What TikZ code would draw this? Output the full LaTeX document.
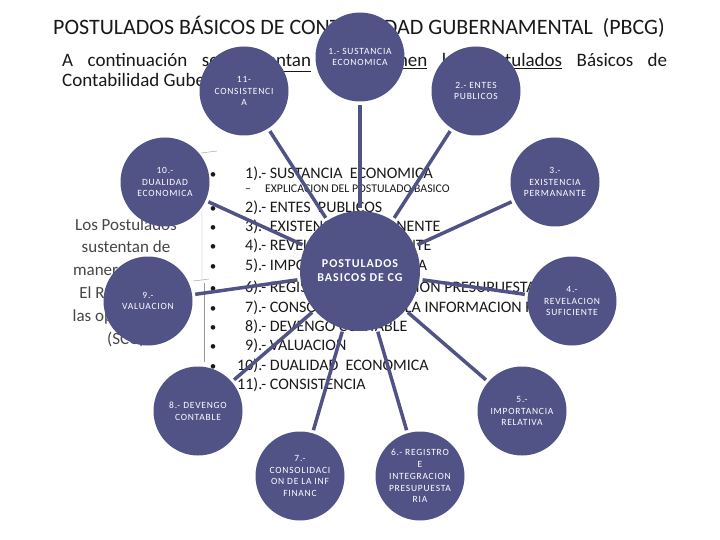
\documentclass[tikz,border=0pt]{standalone}
\usepackage{fontspec}
\setmainfont{Carlito}
\newfontfamily\bubfont{Carlito}[LetterSpace=8]
\usetikzlibrary{positioning}
\definecolor{PB}{RGB}{81,83,135}
\definecolor{TX}{RGB}{25,25,25}
\definecolor{LT}{RGB}{70,70,70}
\definecolor{GL}{RGB}{150,150,150}

\begin{document}
\begin{tikzpicture}[x=1pt, y=-1pt,
  bub/.style={circle, fill=PB, minimum size=89pt, inner sep=0pt,
              text=white, align=center,
              font=\bubfont\fontsize{9.5}{11.8}\selectfont},
  hub/.style={circle, fill=PB, minimum size=120pt, inner sep=0pt,
              text=white, align=center,
              font=\bubfont\fontsize{12}{14}\selectfont\bfseries},
  spoke/.style={line width=3.5pt, draw=PB, shorten <=3pt, shorten >=3pt},
  item/.style={anchor=base west, inner sep=0pt, text=TX,
               font=\fontsize{16}{18}\selectfont},
  bul/.style={anchor=base, inner sep=0pt, text=TX,
              font=\fontsize{13}{15}\selectfont}
]
\useasboundingbox (0,0) rectangle (720,540);

% heading and intro
\node[anchor=base west, inner sep=0pt, text=TX, font=\fontsize{22}{26}\selectfont]
  (title) at (53,35) {POSTULADOS BÁSICOS DE CONTABILIDAD GUBERNAMENTAL\ \ (PBCG)};
\node[anchor=base west, inner sep=0pt, text=TX, font=\fontsize{19}{22}\selectfont]
  (intro1) at (62,67) {\makebox[605pt][s]{A continuación se \underline{presentan} en \underline{resumen} los \underline{Postulados} Básicos de}};
\node[anchor=base west, inner sep=0pt, text=TX, font=\fontsize{19}{22}\selectfont]
  (intro2) at (62,87) {Contabilidad Gubernamental};

% left text box
\node[anchor=north, inner sep=0pt, text=LT, align=center,
      font=\fontsize{17}{22.8}\selectfont]
  (side) at (126,218) {Los Postulados\\sustentan de\\manera técnica\\El Registro de\\las operaciones\\(SCG)};
\draw[GL, thin] (201,153) -- (217,151);
\draw[GL, thin] (202,212) -- (202,280) -- (193,281);
\draw[GL, thin] (202,280) -- (209,279);
\draw[GL, thin] (204,283) -- (204,362);

% list
\foreach \yy in {179,212,232,251,270,292,312,331,350,370,389}
  \node[bul] (b\yy) at (213,\yy) {\textbullet};
\node[item] (it1) at (245,179) {1).- SUSTANCIA\ \ ECONOMICA};
\node[anchor=base west, inner sep=0pt, text=TX, font=\fontsize{11.8}{14}\selectfont]
  (sub) at (245,193) {–\hspace{14pt}EXPLICACION DEL POSTULADO BASICO};
\node[item] (it2) at (245,212) {2).- ENTES\ \ PUBLICOS};
\node[item] (it3) at (245,232) {3).- EXISTENCIA PERMANENTE};
\node[item] (it4) at (245,251) {4).- REVELACION SUFICIENTE};
\node[item] (it5) at (245,270) {5).- IMPORTANCIA RELATIVA};
\node[item] (it6) at (245,292) {6).- REGISTRO E INTEGRACION PRESUPUESTARIA};
\node[item] (it7) at (245,312) {7).- CONSOLIDACION DE LA INFORMACION FINANCIERA};
\node[item] (it8) at (245,331) {8).- DEVENGO CONTABLE};
\node[item] (it9) at (245,350) {9).- VALUACION};
\node[item] (it10) at (237,370) {10).- DUALIDAD\ \ ECONOMICA};
\node[item] (it11) at (237,389) {11).- CONSISTENCIA};

% radial circles
\node[hub] (c0)  at (360,271) {POSTULADOS\\BASICOS DE CG};
\node[bub] (c1)  at (360,57)  {1.- SUSTANCIA\\ECONOMICA};
\node[bub] (c2)  at (476,91)  {2.- ENTES\\PUBLICOS};
\node[bub] (c3)  at (555,182) {3.-\\EXISTENCIA\\PERMANANTE};
\node[bub] (c4)  at (572,301) {4.-\\REVELACION\\SUFICIENTE};
\node[bub] (c5)  at (522,411) {5.-\\IMPORTANCIA\\RELATIVA};
\node[bub] (c6)  at (420,476) {6.- REGISTRO\\E\\INTEGRACION\\PRESUPUESTA\\RIA};
\node[bub] (c7)  at (300,476) {7.-\\CONSOLIDACI\\ON DE LA INF\\FINANC};
\node[bub] (c8)  at (198,411) {8.- DEVENGO\\CONTABLE};
\node[bub] (c9)  at (148,301) {9.-\\VALUACION};
\node[bub] (c10) at (165,182) {10.-\\DUALIDAD\\ECONOMICA};
\node[bub] (c11) at (244,91)  {11-\\CONSISTENCI\\A};

\foreach \i in {1,...,11}
  \draw[spoke] (c0) -- (c\i);
\end{tikzpicture}
\end{document}
